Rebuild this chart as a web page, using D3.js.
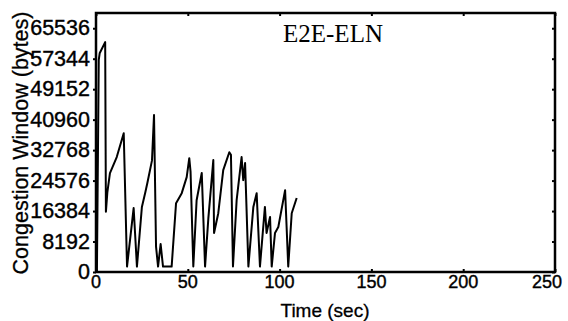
<!DOCTYPE html>
<html><head><meta charset="utf-8">
<script src="https://cdn.jsdelivr.net/npm/d3@7"></script>
<style>body{margin:0;background:#fff}svg{display:block}</style>
</head><body>
<svg id="c" width="568" height="321"></svg>
<script>
const title = "E2E-ELN";
const xLabel = "Time (sec)";
const yLabel = "Congestion Window (bytes)";
const xTicks = [0, 50, 100, 150, 200, 250];
const yTicks = [0, 8192, 16384, 24576, 32768, 40960, 49152, 57344, 65536];
const times = [0.5,1.5,2,5,5.4,6.2,7.6,11.3,15.1,16.9,20.5,22.3,25,26.9,28,30.5,31.6,32.7,33.8,35.2,36.5,41.2,43.6,46.7,49.4,50.8,51.5,53,54.8,57.6,59.4,61.2,63.9,64.3,66.6,69.3,72.6,73.5,74.6,76.6,79.3,80.2,81.2,83,85.7,87.5,89.3,92,92.9,94.8,95.7,97.5,99.3,103,104.7,106.6,109.3];
const cwnd = [0,57000,58800,61800,16200,21500,26600,30900,37300,1460,17200,1460,17500,21500,24000,30000,42200,6800,1460,7500,1460,1460,18500,21200,25500,30600,27000,1460,19300,26600,1460,14500,30100,10500,15800,27400,32200,31500,1460,19300,30900,24700,29300,1460,17500,21200,1460,17500,10500,14800,1460,10500,12100,22000,1460,15800,19900];

const svg = d3.select("#c");
const m = {l:96, r:13, t:13, b:49};
const W = 568, H = 321;
const x = d3.scaleLinear().domain([0,250]).range([m.l, W-m.r]);
const y = d3.scaleLinear().domain([0,69632]).range([H-m.b, m.t]);
const sans = "Liberation Sans, Arial, sans-serif";

// inner ticks
const g = svg.append("g");
g.append("g").attr("transform",`translate(0,${H-m.b})`)
  .call(d3.axisBottom(x).tickValues(xTicks).tickSize(-3).tickFormat(""))
  .call(s=>s.select(".domain").remove());
g.append("g").attr("transform",`translate(0,${m.t})`)
  .call(d3.axisTop(x).tickValues(xTicks).tickSize(-3).tickFormat(""))
  .call(s=>s.select(".domain").remove());
g.append("g").attr("transform",`translate(${m.l},0)`)
  .call(d3.axisLeft(y).tickValues(yTicks).tickSize(3).tickFormat(""))
  .call(s=>s.select(".domain").remove());
g.append("g").attr("transform",`translate(${W-m.r},0)`)
  .call(d3.axisRight(y).tickValues(yTicks).tickSize(-3).tickFormat(""))
  .call(s=>s.select(".domain").remove());
g.selectAll(".tick line").attr("stroke","#000").attr("stroke-width",2);

// labels
svg.append("g").selectAll("text").data(xTicks).join("text")
  .attr("x",(d,i)=> i===xTicks.length-1 ? W-6 : x(d)).attr("y",H-m.b+16)
  .attr("text-anchor",(d,i)=> i===xTicks.length-1 ? "end" : "middle")
  .attr("font-family",sans).attr("font-size",18)
  .attr("stroke","#000").attr("stroke-width",0.4)
  .text(d=>d);
svg.append("g").selectAll("text").data(yTicks).join("text")
  .attr("x",m.l-6).attr("y",d=>y(d)+7).attr("text-anchor","end")
  .attr("font-family",sans).attr("font-size",21.5)
  .attr("stroke","#000").attr("stroke-width",0.4)
  .text(d=>d);

// data line
svg.append("path").datum(times.map((t,i)=>[t,cwnd[i]]))
  .attr("fill","none").attr("stroke","#000").attr("stroke-width",2)
  .attr("stroke-linejoin","round")
  .attr("d", d3.line().x(d=>x(d[0])).y(d=>y(d[1])));

// frame
svg.append("rect").attr("x",m.l).attr("y",m.t).attr("width",W-m.l-m.r).attr("height",H-m.t-m.b)
  .attr("fill","none").attr("stroke","#000").attr("stroke-width",2.5);

svg.append("text").attr("x",283).attr("y",42)
  .attr("font-family","Liberation Serif, Times New Roman, serif").attr("font-size",25)
  .text(title);
svg.append("text").attr("x",325).attr("y",H-4).attr("text-anchor","middle")
  .attr("font-family",sans).attr("font-size",19)
  .attr("stroke","#000").attr("stroke-width",0.3)
  .text(xLabel);
svg.append("text").attr("transform",`translate(28,143) rotate(-90)`)
  .attr("text-anchor","middle")
  .attr("font-family",sans).attr("font-size",21.5)
  .attr("stroke","#000").attr("stroke-width",0.3)
  .text(yLabel);
</script>
</body></html>
